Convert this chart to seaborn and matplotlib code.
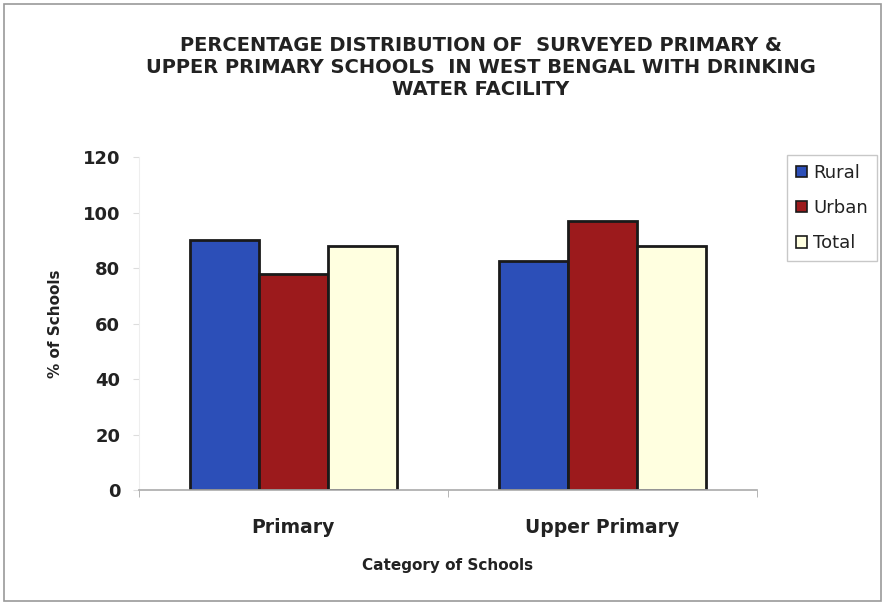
import pandas as pd
from matplotlib import pyplot as plt
from matplotlib.patches import Rectangle
import seaborn as sns

categories = ["Primary", "Upper Primary"]
areas = ["Rural", "Urban", "Total"]
rural = [90, 82.5]
urban = [78, 97]
total = [88, 88]

df = pd.DataFrame({
    "category": categories * 3,
    "area": ["Rural"] * 2 + ["Urban"] * 2 + ["Total"] * 2,
    "value": rural + urban + total,
})

sns.set_style("white")
plt.rcParams["font.family"] = ["DejaVu Sans"]

fig = plt.figure(figsize=(8.85, 6.05), dpi=100)
ax = fig.add_axes([0.157, 0.19, 0.698, 0.5505])

colors = {"Rural": "#2c4fb8", "Urban": "#9c1a1c", "Total": "#ffffe0"}
sns.barplot(data=df, x="category", y="value", hue="area", hue_order=areas,
            palette=colors, width=0.67, edgecolor="#1a1a1a", linewidth=2,
            saturation=1, ax=ax)

ax.set_xlim(-0.5, 1.5)
ax.set_ylim(0, 120)
ax.set_yticks(range(0, 121, 20))
ax.tick_params(axis="y", labelsize=13, length=4, color="#dddddd", pad=9.5, left=True)
ax.tick_params(axis="x", labelsize=13.5, length=0, pad=20)
ax.set_xticks([-0.5, 0.5, 1.5], minor=True)
ax.tick_params(axis="x", which="minor", length=5, color="#aaaaaa", direction="out", bottom=True)
for lbl in ax.get_xticklabels() + ax.get_yticklabels():
    lbl.set_fontweight("bold")
    lbl.set_color("#222222")

for s in ["top", "right"]:
    ax.spines[s].set_visible(False)
ax.spines["left"].set_color("#eeeeee")
ax.spines["bottom"].set_color("#aaaaaa")
ax.spines["bottom"].set_linewidth(1.2)

ax.set_xlabel("Category of Schools", fontsize=11, fontweight="bold", labelpad=15, color="#222222")
ax.set_ylabel("% of Schools", fontsize=11, fontweight="bold", labelpad=14, color="#222222")

fig.suptitle("PERCENTAGE DISTRIBUTION OF  SURVEYED PRIMARY &\n"
             "UPPER PRIMARY SCHOOLS  IN WEST BENGAL WITH DRINKING\n"
             "WATER FACILITY",
             x=0.5435, y=0.94, fontsize=14, fontweight="bold", linespacing=1.18, color="#222222")

leg = ax.legend(loc="upper left", bbox_to_anchor=(0.889, 0.744), bbox_transform=fig.transFigure,
                fontsize=13, frameon=True, fancybox=False, edgecolor="#bbbbbb",
                handlelength=0.6, handleheight=0.6, handletextpad=0.35,
                labelspacing=0.95, borderpad=0.5, borderaxespad=0, labelcolor="#222222")
for h in leg.legend_handles:
    h.set_linewidth(1.2)

fig.patches.append(Rectangle((0.004, 0.006), 0.992, 0.988, transform=fig.transFigure,
                             fill=False, edgecolor="#999999", linewidth=1.2))

fig.savefig("out.png", dpi=100)
